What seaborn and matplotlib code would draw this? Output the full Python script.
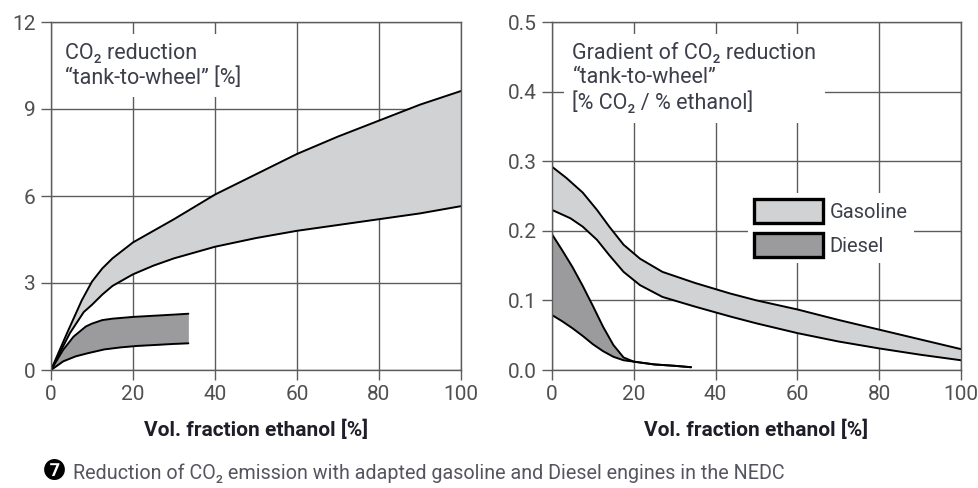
import numpy as np
import pandas as pd
import matplotlib
matplotlib.use("Agg")
import matplotlib.pyplot as plt
from matplotlib.patches import Patch
import seaborn as sns

# ---- data: CO2 reduction "tank-to-wheel" [%] vs. ethanol fraction [%] ----
gas_red_x_upper = [0, 4, 7.5, 10, 12.5, 15, 20, 25, 30, 40, 50, 60, 70, 80, 90, 100]
gas_red_upper = [0, 1.3, 2.4, 3.05, 3.5, 3.85, 4.4, 4.8, 5.2, 6.05, 6.75, 7.45, 8.05, 8.6, 9.15, 9.62]
gas_red_x_lower = [0, 4.6, 8, 10, 12.5, 15, 20, 25, 30, 40, 50, 60, 70, 80, 90, 100]
gas_red_lower = [0, 1.27, 2.0, 2.25, 2.6, 2.9, 3.3, 3.6, 3.85, 4.25, 4.55, 4.8, 5.0, 5.2, 5.4, 5.65]

die_red_x_upper = [0, 3, 5.5, 8.5, 10, 12.5, 15, 20, 25, 30, 33.5]
die_red_upper = [0, 0.7, 1.15, 1.5, 1.6, 1.72, 1.77, 1.83, 1.87, 1.91, 1.94]
die_red_x_lower = [0, 3, 6, 9, 13, 17, 21, 25, 30, 33.5]
die_red_lower = [0, 0.3, 0.47, 0.58, 0.71, 0.78, 0.83, 0.86, 0.9, 0.92]

# ---- data: gradient of CO2 reduction [% CO2 / % ethanol] ----
gas_grad_x_upper = [0, 3.5, 7.5, 11, 14, 17.5, 21.5, 27, 35, 43.5, 50, 60, 70, 80, 90, 100]
gas_grad_upper = [0.292, 0.276, 0.255, 0.23, 0.206, 0.18, 0.16, 0.141, 0.125, 0.11,
                  0.1, 0.087, 0.072, 0.058, 0.044, 0.03]
gas_grad_x_lower = [0, 4.5, 7.5, 11, 14, 17.5, 21.5, 27, 35, 43.5, 50, 60, 70, 80, 90, 100]
gas_grad_lower = [0.23, 0.218, 0.206, 0.187, 0.165, 0.141, 0.122, 0.105, 0.091, 0.077,
                  0.067, 0.053, 0.041, 0.031, 0.022, 0.014]

die_grad_x = [0, 2.5, 5, 7.5, 10, 12.5, 15, 17.5, 20, 25, 30, 34]
die_grad_upper = [0.195, 0.172, 0.148, 0.121, 0.092, 0.062, 0.036, 0.018, 0.012, 0.008, 0.006, 0.004]
die_grad_lower = [0.079, 0.07, 0.06, 0.049, 0.037, 0.027, 0.019, 0.014, 0.012, 0.008, 0.006, 0.004]

left_yticks = [0, 3, 6, 9, 12]
right_yticks = [0.0, 0.1, 0.2, 0.3, 0.4, 0.5]
xticks = [0, 20, 40, 60, 80, 100]
series_names = ["Gasoline", "Diesel"]
xlabel = "Vol. fraction ethanol [%]"
left_note = "CO\u2082 reduction\n\u201ctank-to-wheel\u201d [%]"
right_note = "Gradient of CO\u2082 reduction\n\u201ctank-to-wheel\u201d\n[% CO\u2082 / % ethanol]"
caption = "Reduction of CO\u2082 emission with adapted gasoline and Diesel engines in the NEDC"

# ---- style ----
sns.set_theme(style="white")
plt.rcParams["font.family"] = ["Roboto", "DejaVu Sans"]

GRID = "#5c5c5c"
GAS_FILL = "#d1d2d4"
DIE_FILL = "#9b9b9d"
TEXT = "#3c3e4a"
TICK_TEXT = "#505050"

fig = plt.figure(figsize=(9.79, 4.88), dpi=100)
ax1 = fig.add_axes([51 / 979, 118 / 488, 410 / 979, 348 / 488])
ax2 = fig.add_axes([552 / 979, 118 / 488, 409 / 979, 348 / 488])


def band(ax, xu, yu, xl, yl, color):
    """Shaded band between two boundary curves, outlined in black."""
    xs = np.union1d(xu, xl)
    ax.fill_between(xs, np.interp(xs, xu, yu), np.interp(xs, xl, yl),
                    color=color, linewidth=0, zorder=1.8)
    up = pd.DataFrame({"x": xu, "y": yu})
    lo = pd.DataFrame({"x": xl, "y": yl})
    sns.lineplot(data=up, x="x", y="y", ax=ax, color="black", linewidth=1.4,
                 estimator=None, sort=False, zorder=2)
    sns.lineplot(data=lo, x="x", y="y", ax=ax, color="black", linewidth=1.4,
                 estimator=None, sort=False, zorder=2)


band(ax1, gas_red_x_upper, gas_red_upper, gas_red_x_lower, gas_red_lower, GAS_FILL)
band(ax1, die_red_x_upper, die_red_upper, die_red_x_lower, die_red_lower, DIE_FILL)
band(ax2, gas_grad_x_upper, gas_grad_upper, gas_grad_x_lower, gas_grad_lower, GAS_FILL)
band(ax2, die_grad_x, die_grad_upper, die_grad_x, die_grad_lower, DIE_FILL)

for ax, yt, fmt in ((ax1, left_yticks, "{:g}"), (ax2, right_yticks, "{:.1f}")):
    ax.set_xlim(0, 100)
    ax.set_ylim(yt[0], yt[-1])
    ax.set_xticks(xticks)
    ax.set_yticks(yt)
    ax.set_yticklabels([fmt.format(v) for v in yt])
    ax.set_axisbelow(True)
    ax.grid(True, color=GRID, linewidth=1.0)
    for s in ax.spines.values():
        s.set_visible(True)
        s.set_color(GRID)
        s.set_linewidth(1.0)
    ax.tick_params(axis="both", which="major", direction="out", length=7, width=1.0,
                   color=GRID, labelsize=15, labelcolor=TICK_TEXT, pad=4,
                   left=True, bottom=True)
    ax.set_ylabel("")
    ax.set_xlabel(xlabel, fontweight="bold", fontsize=15,
                  color="#1e1e28", labelpad=11)
    ax.set_facecolor("white")

box = dict(boxstyle="square,pad=0.4", facecolor="white", edgecolor="none")
ax1.text(0.035, 0.94, left_note, transform=ax1.transAxes, ha="left", va="top",
         fontsize=15.5, color=TEXT, linespacing=1.2, bbox=box, zorder=1.5)
ax2.text(0.05, 0.94, right_note, transform=ax2.transAxes, ha="left", va="top",
         fontsize=15.5, color=TEXT, linespacing=1.2, bbox=box, zorder=1.5)

handles = [Patch(facecolor=GAS_FILL, edgecolor="black", linewidth=2.4),
           Patch(facecolor=DIE_FILL, edgecolor="black", linewidth=2.4)]
leg = ax2.legend(handles, series_names, loc="upper left",
                 bbox_to_anchor=(738 / 979, 1 - 183 / 488), bbox_transform=fig.transFigure,
                 fontsize=14.5, handlelength=3.4, handleheight=1.45, labelspacing=0.5,
                 handletextpad=0.35, borderpad=0.3, frameon=True, fancybox=False,
                 framealpha=1.0, edgecolor="none", facecolor="white")
for t in leg.get_texts():
    t.set_color(TEXT)

fig.text(42 / 979, 8 / 488, "\u277c", family=["DejaVu Sans"], fontsize=20,
         color="black", ha="left", va="baseline")
fig.text(73 / 979, 9 / 488, caption, fontsize=14.2, color="#555560",
         ha="left", va="baseline")

fig.savefig("out.png", dpi=100, facecolor="white")
